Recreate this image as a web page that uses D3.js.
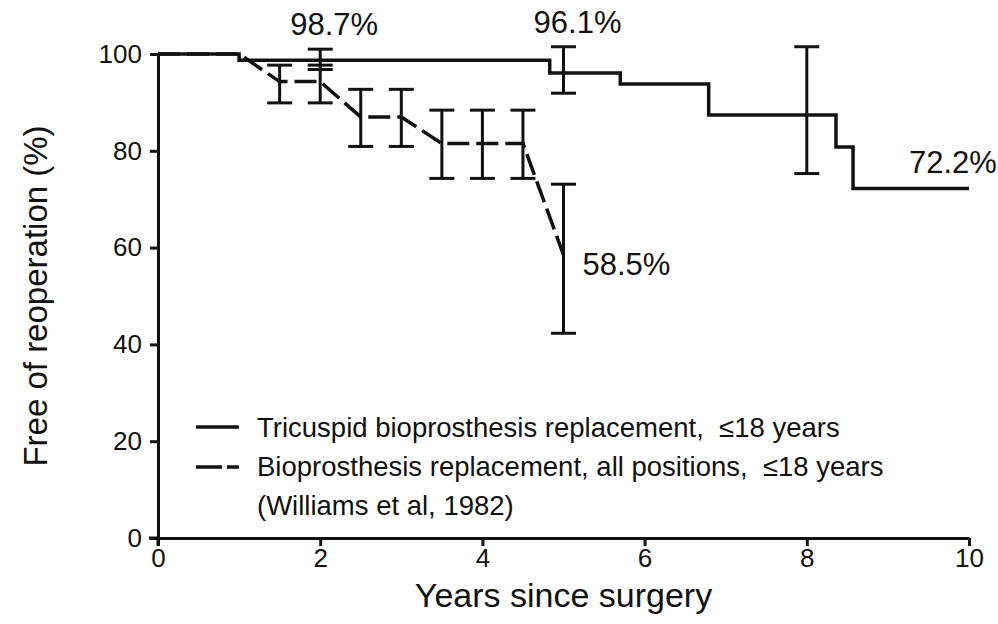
<!DOCTYPE html>
<html><head><meta charset="utf-8">
<script src="https://cdn.jsdelivr.net/npm/d3@7"></script>
<style>
html,body{margin:0;padding:0;background:#fff;}
svg{display:block;}
text{font-family:"Liberation Sans", Arial, Helvetica, sans-serif; fill:#111;}
</style></head><body>
<svg id="chart" width="998" height="624"></svg>
<script>
// Tricuspid bioprosthesis replacement: Kaplan-Meier step curve
const tricuspidYears = [0, 1.0, 4.83, 5.70, 6.79, 8.36, 8.57, 10];
const tricuspidFree  = [100, 98.7, 96.1, 93.8, 87.4, 80.8, 72.2, 72.2];
// confidence bars on the tricuspid curve
const tricuspidBarYears = [2, 5, 8];
const tricuspidBarValue = [98.7, 96.1, 87.4];
const tricuspidBarLow   = [96.8, 91.9, 75.3];
const tricuspidBarHigh  = [101.0, 101.5, 101.5];

// Bioprosthesis replacement, all positions (Williams et al, 1982)
const allPosYears = [0, 1.0, 1.5, 2.0, 2.5, 3.0, 3.5, 4.0, 4.5, 5.0];
const allPosFree  = [100, 100, 94.3, 94.3, 87.0, 87.0, 81.5, 81.5, 81.5, 58.5];
const allPosBarYears = [1.5, 2.0, 2.5, 3.0, 3.5, 4.0, 4.5, 5.0];
const allPosBarLow   = [89.9, 89.9, 80.9, 80.9, 74.3, 74.3, 74.3, 42.3];
const allPosBarHigh  = [97.7, 97.7, 92.7, 92.7, 88.4, 88.4, 88.4, 73.1];

const xTicks = [0, 2, 4, 6, 8, 10];
const yTicks = [0, 20, 40, 60, 80, 100];
const legendLabels = [
  "Tricuspid bioprosthesis replacement,  \u226418 years",
  "Bioprosthesis replacement, all positions,  \u226418 years",
  "(Williams et al, 1982)"
];
const xTitle = "Years since surgery";
const yTitle = "Free of reoperation (%)";

const ink = "#111";
const svg = d3.select("#chart");
svg.append("rect").attr("width", 998).attr("height", 624).attr("fill", "#fff");

const x = d3.scaleLinear().domain([0, 10]).range([158, 969]);
const y = d3.scaleLinear().domain([0, 100]).range([538, 54]);

// axes
const xAxis = svg.append("g").attr("transform", `translate(0,${y(0)})`)
  .call(d3.axisBottom(x).tickValues(xTicks).tickSize(8).tickSizeOuter(0).tickPadding(3));
const yAxis = svg.append("g").attr("transform", `translate(${x(0)},0)`)
  .call(d3.axisLeft(y).tickValues(yTicks).tickSize(8).tickSizeOuter(0).tickPadding(8));
[xAxis, yAxis].forEach(g => {
  g.select(".domain").attr("stroke", ink).attr("stroke-width", 3);
  g.selectAll(".tick line").attr("stroke", ink).attr("stroke-width", 3);
  g.selectAll(".tick text").attr("fill", ink).style("font-size", "26px")
    .style("font-family", '"Liberation Sans", Arial, sans-serif');
});
// short stubs past the origin on both axes
svg.append("line").attr("x1", x(0) - 9).attr("x2", x(0)).attr("y1", y(0)).attr("y2", y(0))
  .attr("stroke", ink).attr("stroke-width", 3);
svg.append("line").attr("x1", x(0)).attr("x2", x(0)).attr("y1", y(0)).attr("y2", y(0) + 8)
  .attr("stroke", ink).attr("stroke-width", 3);

// axis titles
svg.append("text").attr("x", (x(0) + x(10)) / 2).attr("y", 607)
  .attr("text-anchor", "middle").style("font-size", "34px").text(xTitle);
svg.append("text").attr("transform", `translate(47,${(y(0) + y(100)) / 2}) rotate(-90)`)
  .attr("text-anchor", "middle").style("font-size", "33px").text(yTitle);

// curves
const triPts = tricuspidYears.map((t, i) => [t, tricuspidFree[i]]);
const allPts = allPosYears.map((t, i) => [t, allPosFree[i]]);

svg.append("path").datum(allPts)
  .attr("d", d3.line().x(d => x(d[0])).y(d => y(d[1])).curve(d3.curveLinear))
  .attr("fill", "none").attr("stroke", ink).attr("stroke-width", 3.5)
  .attr("stroke-dasharray", "22,7");

svg.append("path").datum(triPts)
  .attr("d", d3.line().x(d => x(d[0])).y(d => y(d[1])).curve(d3.curveStepAfter))
  .attr("fill", "none").attr("stroke", ink).attr("stroke-width", 3.5);

// error bars
function errorBars(years, low, high) {
  const g = svg.append("g").attr("stroke", ink).attr("stroke-width", 3);
  years.forEach((t, i) => {
    const cx = x(t);
    g.append("line").attr("x1", cx).attr("x2", cx).attr("y1", y(low[i])).attr("y2", y(high[i]));
    g.append("line").attr("x1", cx - 12.5).attr("x2", cx + 12.5).attr("y1", y(low[i])).attr("y2", y(low[i]));
    g.append("line").attr("x1", cx - 12.5).attr("x2", cx + 12.5).attr("y1", y(high[i])).attr("y2", y(high[i]));
  });
}
errorBars(allPosBarYears, allPosBarLow, allPosBarHigh);
errorBars(tricuspidBarYears, tricuspidBarLow, tricuspidBarHigh);

// value annotations
const fmt = v => v.toFixed(1) + "%";
const annFont = "31px";
[0, 1].forEach(i => {
  svg.append("text").attr("x", x(tricuspidBarYears[i]) + 14)
    .attr("y", y(tricuspidBarHigh[i]) - 14).attr("text-anchor", "middle")
    .style("font-size", annFont).text(fmt(tricuspidBarValue[i]));
});
const lastTri = tricuspidFree.length - 1;
svg.append("text").attr("x", x(tricuspidYears[lastTri]) - 60)
  .attr("y", y(tricuspidFree[lastTri]) - 16)
  .style("font-size", annFont).text(fmt(tricuspidFree[lastTri]));
const lastAll = allPosFree.length - 1;
svg.append("text").attr("x", x(allPosYears[lastAll]) + 19)
  .attr("y", y(allPosFree[lastAll]) + 20)
  .style("font-size", annFont).text(fmt(allPosFree[lastAll]));

// legend
const legend = svg.append("g");
legend.append("line").attr("x1", 196).attr("x2", 239).attr("y1", 427).attr("y2", 427)
  .attr("stroke", ink).attr("stroke-width", 3.5);
legend.append("line").attr("x1", 196).attr("x2", 239).attr("y1", 467).attr("y2", 467)
  .attr("stroke", ink).attr("stroke-width", 3.5).attr("stroke-dasharray", "26,5,13");
legendLabels.forEach((s, i) => {
  legend.append("text").attr("x", 257).attr("y", 437 + i * 39)
    .style("font-size", "27.5px").style("white-space", "pre").text(s);
});
</script>
</body></html>
